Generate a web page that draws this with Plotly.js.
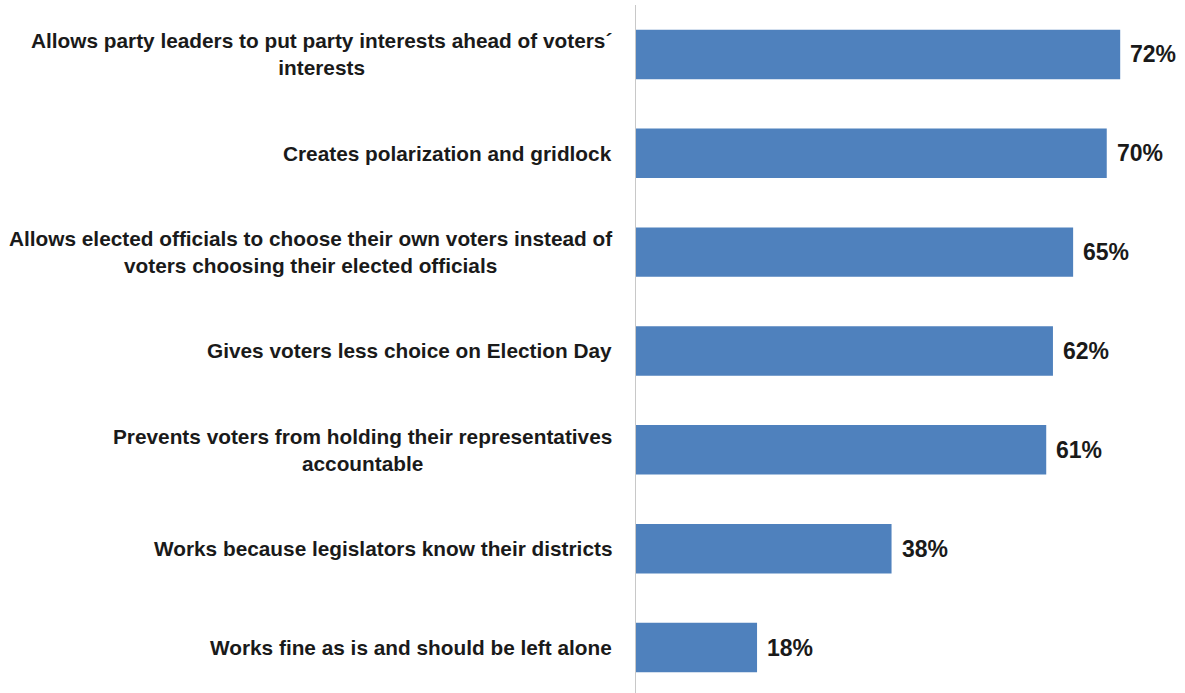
<!DOCTYPE html>
<html>
<head>
<meta charset="utf-8">
<script src="https://cdn.plot.ly/plotly-3.0.1.min.js"></script>
<style>html,body{margin:0;padding:0;background:#fff;}#chart{width:1185px;height:693px;}</style>
</head>
<body>
<div id="chart"></div>
<script>
const categories = [
  "Allows party leaders to put party interests ahead of voters´<br>interests",
  "Creates polarization and gridlock",
  "Allows elected officials to choose their own voters instead of<br>voters choosing their elected officials",
  "Gives voters less choice on Election Day",
  "Prevents voters from holding their representatives<br>accountable",
  "Works because legislators know their districts",
  "Works fine as is and should be left alone"
];
const values = [72, 70, 65, 62, 61, 38, 18];
const valueLabels = values.map(v => v + "%");

const FONT = "Liberation Sans, Arial, sans-serif";

const trace = {
  type: "bar",
  orientation: "h",
  x: values,
  y: categories,
  marker: {color: "#4F81BD"},
  hoverinfo: "none"
};

const annotations = [];
categories.forEach((c, i) => {
  annotations.push({
    xref: "paper", yref: "y", x: 0, y: c,
    xanchor: "right", yanchor: "middle", align: "center",
    xshift: -22, text: "<b>" + c + "</b>", showarrow: false,
    font: {family: FONT, size: 20.8, color: "#1a1a1a"}
  });
  annotations.push({
    xref: "x", yref: "y", x: values[i], y: c,
    xanchor: "left", yanchor: "middle",
    xshift: 8, text: "<b>" + valueLabels[i] + "</b>", showarrow: false,
    font: {family: FONT, size: 23, color: "#1a1a1a"}
  });
});

const layout = {
  width: 1185, height: 693,
  margin: {l: 636, r: 11.4, t: 5, b: 0},
  paper_bgcolor: "#ffffff", plot_bgcolor: "#ffffff",
  showlegend: false,
  bargap: 0.5,
  xaxis: {range: [0, 80], showgrid: false, zeroline: false, showticklabels: false, ticks: "", showline: false},
  yaxis: {type: "category", categoryorder: "array", categoryarray: categories,
          range: [6.46, -0.5], showticklabels: false, ticks: "", showgrid: false,
          showline: true, linecolor: "#c8c8c8", linewidth: 1, zeroline: false},
  annotations: annotations
};

Plotly.newPlot("chart", [trace], layout, {displayModeBar: false, staticPlot: true});
</script>
</body>
</html>
